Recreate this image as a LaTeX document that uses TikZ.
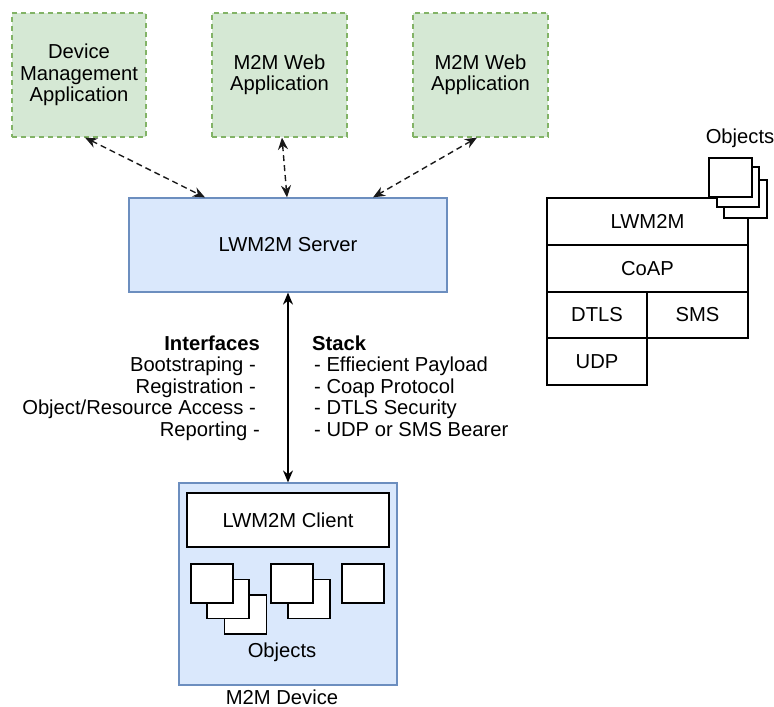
\documentclass[tikz,border=0pt]{standalone}
\usepackage{fontspec}
\setmainfont{Liberation Sans}
\usetikzlibrary{arrows.meta}
\definecolor{gfill}{HTML}{D5E8D4}
\definecolor{gline}{HTML}{82B366}
\definecolor{bfill}{HTML}{DAE8FC}
\definecolor{bline}{HTML}{6C8EBF}
\begin{document}
\begin{tikzpicture}[x=1pt,y=-1pt,
  font=\fontsize{20.2}{21.5}\selectfont,
  app/.style={draw=gline, fill=gfill, dash pattern=on 5pt off 4pt, line width=1.2pt,
    minimum width=134pt, minimum height=124pt, align=center, inner sep=0pt},
  blue/.style={draw=bline, fill=bfill, line width=1.2pt, inner sep=0pt},
  wbox/.style={draw=black, fill=white, line width=1.2pt, inner sep=0pt},
  obj/.style={wbox, minimum width=42pt, minimum height=39pt},
  txt/.style={inner sep=0pt},
  dasharrow/.style={draw=black!90, line width=1.4pt, dash pattern=on 6pt off 4pt,
    {Stealth[length=12pt,width=10pt]}-{Stealth[length=12pt,width=10pt]}},
  solarrow/.style={draw=black, line width=1.4pt,
    {Stealth[length=12pt,width=10pt]}-{Stealth[length=12pt,width=10pt]}}
]
\useasboundingbox (0,0) rectangle (774,707);

% application boxes
\node[app] (b1) at (79,75) {Device\\Management\\Application};
\node[app, minimum width=135pt] (b2) at (279.5,75) {M2M Web\\Application};
\node[app, minimum width=135pt] (b3) at (480.5,75) {M2M Web\\Application};

% server
\node[blue, minimum width=318pt, minimum height=94pt] (srv) at (288,245) {LWM2M Server};

% device
\node[blue, minimum width=218pt, minimum height=202pt] (dev) at (288,584) {};
\node[txt] (devlbl) at (282,697) {M2M Device};
\node[wbox, minimum width=202pt, minimum height=54pt] (client) at (288,520) {LWM2M Client};
\node[obj] (s1c) at (245.5,614.5) {};
\node[obj] (s1b) at (228,599) {};
\node[obj] (s1a) at (212,583.5) {};
\node[obj] (s2b) at (309,599) {};
\node[obj] (s2a) at (292,583.5) {};
\node[obj] (s3) at (363,583.5) {};
\node[txt] (objlbl) at (282,652) {Objects};

% connectors
\draw[dasharrow] ([xshift=6pt]b1.south) -- ([xshift=-83pt]srv.north);
\draw[dasharrow] ([xshift=2.5pt]b2.south) -- ([xshift=-1pt]srv.north);
\draw[dasharrow] ([xshift=-3.5pt]b3.south) -- ([xshift=85pt]srv.north);
\draw[solarrow] (srv.south) -- (dev.north);

% interfaces / stack text
\node[txt, anchor=base east] (if0) at (260,350) {\bfseries Interfaces};
\node[txt, anchor=base east] (if1) at (256,371.5) {Bootstraping -};
\node[txt, anchor=base east] (if2) at (256,393) {Registration -};
\node[txt, anchor=base east] (if3) at (256,414.5) {Object/Resource Access -};
\node[txt, anchor=base east] (if4) at (260,436) {Reporting -};
\node[txt, anchor=base west] (st0) at (312,350) {\bfseries Stack};
\node[txt, anchor=base west] (st1) at (314,371.5) {- Effiecient Payload};
\node[txt, anchor=base west] (st2) at (314,393) {- Coap Protocol};
\node[txt, anchor=base west] (st3) at (314,414.5) {- DTLS Security};
\node[txt, anchor=base west] (st4) at (314,436) {- UDP or SMS Bearer};

% protocol stack
\node[wbox, minimum width=201pt, minimum height=47pt] (lw) at (647.5,221.5) {LWM2M};
\node[wbox, minimum width=201pt, minimum height=47pt] (coap) at (647.5,268.5) {CoAP};
\node[wbox, minimum width=100pt, minimum height=46pt] (dtls) at (597,315) {DTLS};
\node[wbox, minimum width=101pt, minimum height=46pt] (sms) at (697.5,315) {SMS};
\node[wbox, minimum width=100pt, minimum height=47pt] (udp) at (597,361.5) {UDP};
\node[obj, minimum width=43pt, minimum height=38pt] (q3) at (745.5,199) {};
\node[obj, minimum width=42pt, minimum height=40pt] (q2) at (738,187) {};
\node[obj, minimum width=43pt, minimum height=39pt] (q1) at (730.5,177.5) {};
\node[txt] (qlbl) at (740,138) {Objects};
\end{tikzpicture}
\end{document}
